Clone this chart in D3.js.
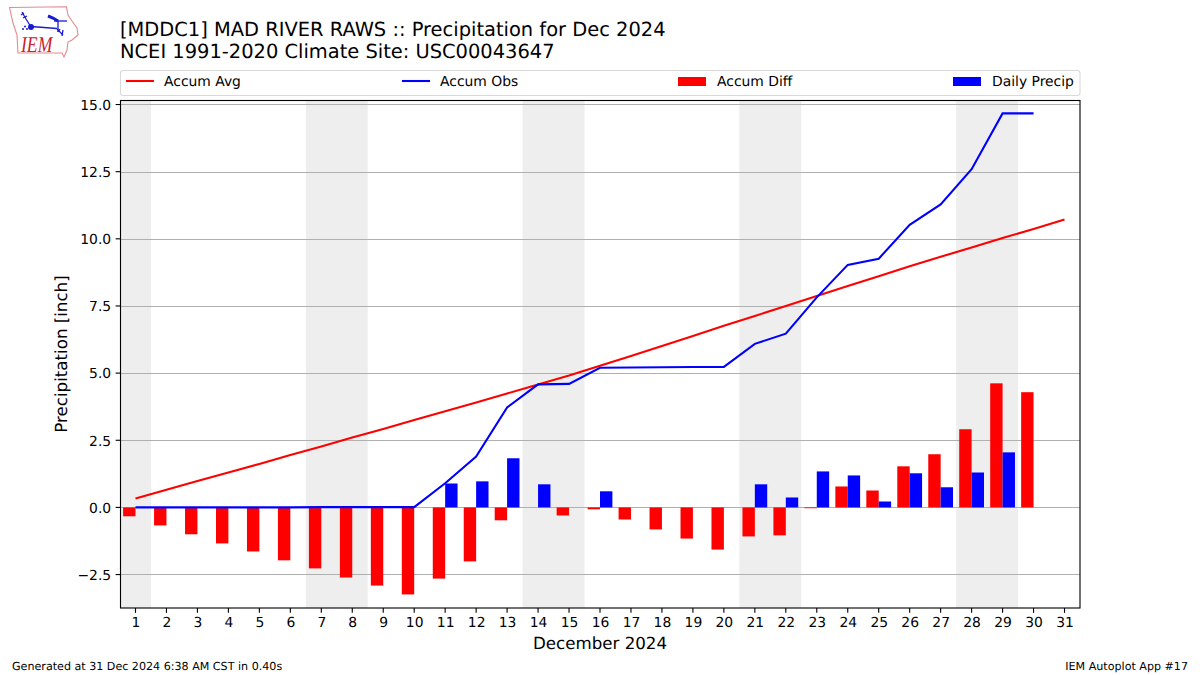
<!DOCTYPE html>
<html>
<head>
<meta charset="utf-8">
<script src="https://cdn.jsdelivr.net/npm/d3@7/dist/d3.min.js"></script>
<style>
html,body{margin:0;padding:0;background:#fff;}
svg{display:block;}
text{font-family:"DejaVu Sans",sans-serif;fill:#000;text-rendering:geometricPrecision;}
</style>
</head>
<body>
<svg id="chart" width="1200" height="675"></svg>
<script>
const days = d3.range(1, 32);
const tickDays = days;
const yTicks = [-2.5, 0, 2.5, 5, 7.5, 10, 12.5, 15];
const weekendSpans = [[0.5,1.5],[6.5,8.5],[13.5,15.5],[20.5,22.5],[27.5,29.5]];
const accumAvg = [0.33,0.66,0.98,1.30,1.62,1.95,2.27,2.60,2.92,3.25,3.58,3.91,4.24,4.58,4.91,5.27,5.64,6.01,6.38,6.76,7.13,7.50,7.87,8.24,8.61,8.98,9.33,9.68,10.03,10.37,10.72];
const accumObs = [0,0,0,0,0,0,0.01,0.01,0.01,0.01,0.90,1.89,3.72,4.58,4.60,5.20,5.21,5.22,5.23,5.23,6.09,6.47,7.82,9.03,9.26,10.52,11.28,12.59,14.67,14.67];
const accumDiff = [-0.33,-0.67,-1.00,-1.34,-1.64,-1.97,-2.27,-2.61,-2.91,-3.24,-2.65,-2.01,-0.48,0,-0.30,-0.07,-0.45,-0.82,-1.16,-1.57,-1.08,-1.04,-0.03,0.78,0.63,1.53,1.98,2.91,4.62,4.29];
const dailyPrecip = [0,0,0,0,0,0,0,0,0,0,0.89,0.97,1.83,0.86,0,0.60,0,0,0,0,0.86,0.37,1.34,1.19,0.22,1.27,0.75,1.30,2.05,0];
const titleLines = ["[MDDC1] MAD RIVER RAWS :: Precipitation for Dec 2024","NCEI 1991-2020 Climate Site: USC00043647"];
const legendLabels = ["Accum Avg","Accum Obs","Accum Diff","Daily Precip"];

const svg = d3.select("#chart");
const plot = {l:120.5, r:1080, t:100.5, b:608};
const x = d3.scaleLinear().domain([0.516, 31.5]).range([plot.l, plot.r]);
const y = d3.scaleLinear().domain([-3.745, 15.15]).range([plot.b, plot.t]);
const barW = x(1.4) - x(1);

svg.append("defs").append("clipPath").attr("id","pc").append("rect")
  .attr("x",plot.l).attr("y",plot.t).attr("width",plot.r-plot.l).attr("height",plot.b-plot.t);
const g = svg.append("g").attr("clip-path","url(#pc)");

g.selectAll("rect.wk").data(weekendSpans).join("rect").attr("class","wk")
  .attr("x",d=>Math.max(x(d[0]),plot.l)).attr("width",d=>x(d[1])-Math.max(x(d[0]),plot.l))
  .attr("y",plot.t).attr("height",plot.b-plot.t).attr("fill","#eeeeee");

const gridY = d => Math.floor(y(d)+0.4)+0.5;
g.selectAll("line.grid").data(yTicks).join("line").attr("class","grid")
  .attr("x1",plot.l).attr("x2",plot.r).attr("y1",gridY).attr("y2",gridY)
  .attr("stroke","#b0b0b0").attr("stroke-width",1.1);

g.selectAll("rect.diff").data(accumDiff).join("rect").attr("class","diff")
  .attr("x",(d,i)=>x(i+1)-barW).attr("width",barW)
  .attr("y",d=>y(Math.max(d,0))).attr("height",d=>Math.abs(y(d)-y(0))).attr("fill","#ff0000");
g.selectAll("rect.daily").data(dailyPrecip).join("rect").attr("class","daily")
  .attr("x",(d,i)=>x(i+1)).attr("width",barW)
  .attr("y",d=>y(d)).attr("height",d=>y(0)-y(d)).attr("fill","#0000ff");

const line = d3.line().x((d,i)=>x(i+1)).y(d=>y(d));
g.append("path").datum(accumAvg).attr("d",line).attr("fill","none").attr("stroke","#ff0000").attr("stroke-width",2.08);
g.append("path").datum(accumObs).attr("d",line).attr("fill","none").attr("stroke","#0000ff").attr("stroke-width",2.08);

const xAxis = d3.axisBottom(x).tickValues(tickDays).tickFormat(d3.format("d")).tickSize(4.86).tickPadding(4.5).offset(0);
const yAxis = d3.axisLeft(y).tickValues(yTicks).tickFormat(d=>d3.format(".1f")(d).replace("-","\u2212")).tickSize(4.86).tickPadding(4.5).offset(0);
const gx = svg.append("g").attr("transform",`translate(0,${plot.b})`).call(xAxis);
const gy = svg.append("g").attr("transform",`translate(${plot.l},0)`).call(yAxis);
[gx,gy].forEach(a=>{
  a.select(".domain").remove();
  a.selectAll("line").attr("stroke","#000").attr("stroke-width",1.11);
  a.selectAll("text").attr("font-size",13.89).attr("font-family",'"DejaVu Sans"');
});
gx.selectAll("text").attr("dx",0.5);
gy.selectAll("text").attr("transform","translate(0,0.8)");
svg.append("rect").attr("x",plot.l).attr("y",plot.t).attr("width",plot.r-plot.l).attr("height",plot.b-plot.t)
  .attr("fill","none").attr("stroke","#000").attr("stroke-width",1.11);

svg.selectAll("text.title").data(titleLines).join("text").attr("class","title")
  .attr("x",120).attr("y",(d,i)=>35.5+i*22).attr("font-size",19.44).text(d=>d);

svg.append("text").attr("x",600).attr("y",649).attr("text-anchor","middle").attr("font-size",16.67).text("December 2024");
svg.append("text").attr("transform","translate(67,354) rotate(-90)").attr("text-anchor","middle").attr("font-size",16.67).text("Precipitation [inch]");
svg.append("text").attr("x",12).attr("y",670).attr("font-size",11.11).text("Generated at 31 Dec 2024 6:38 AM CST in 0.40s");
svg.append("text").attr("x",1188).attr("y",670).attr("text-anchor","end").attr("font-size",11.11).text("IEM Autoplot App #17");

// legend
const leg = svg.append("g");
leg.append("rect").attr("x",120.5).attr("y",70.5).attr("width",959.5).attr("height",25).attr("rx",2.5)
  .attr("fill","#fff").attr("stroke","#d9d9d9").attr("stroke-width",1.1);
const legX = [125, 401, 678, 953];
const legTextX = [164, 440, 717, 992];
legendLabels.forEach((t,i)=>{
  if(i<2){
    leg.append("line").attr("x1",legX[i]+1).attr("x2",legX[i]+29).attr("y1",81).attr("y2",81)
      .attr("stroke",i==0?"#ff0000":"#0000ff").attr("stroke-width",2.08);
  } else {
    leg.append("rect").attr("x",legX[i]).attr("y",77).attr("width",28).attr("height",9)
      .attr("fill",i==2?"#ff0000":"#0000ff");
  }
  leg.append("text").attr("x",legTextX[i]).attr("y",86).attr("font-size",13.89).text(t);
});

// logo
const logo = svg.append("g");
const iowa = [[9.5,7.5],[66.5,6.8],[68,15],[72,21],[77,28],[78,35],[72,40],[68,42],[67,50],[64,57],[62,53],[18,53],[17,35],[13,23]];
logo.append("path").attr("d",d3.line()(iowa)+"Z").attr("fill","#fff").attr("stroke","#e58a8e").attr("stroke-width",1.1);
const logoThin = [
  [[22,12],[26,19],[31,27]],
  [[21,15],[24,13]],
  [[23,18],[27,16]],
  [[31,26.5],[57,28.5]],
  [[58,21],[58,32]],
  [[54,21],[67,21]],
  [[57,29],[63,35]],
  [[60,29],[58,32]],
  [[63,30],[62,36]]
];
logoThin.forEach(p=>logo.append("path").attr("d",d3.line()(p)).attr("fill","none").attr("stroke","#1a1ad6").attr("stroke-width",1.3));
const logoThick = [[[48,16],[53,18],[58,21]]];
logoThick.forEach(p=>logo.append("path").attr("d",d3.line()(p)).attr("fill","none").attr("stroke","#1a1ad6").attr("stroke-width",3));
logo.append("circle").attr("cx",31).attr("cy",27).attr("r",3).attr("fill","#1a1ad6");
const logoDots = [[23,29],[25,26.5],[27,29]];
logo.selectAll("circle.dot").data(logoDots).join("circle").attr("class","dot")
  .attr("cx",d=>d[0]).attr("cy",d=>d[1]).attr("r",1).attr("fill","#1a1ad6");
logo.append("text").attr("transform","translate(21,51.5) scale(0.98,1.25)").attr("font-size",18).attr("font-style","italic")
  .style("font-family",'"Liberation Serif"').style("fill","#c8232c").text("IEM");
</script>
</body>
</html>
